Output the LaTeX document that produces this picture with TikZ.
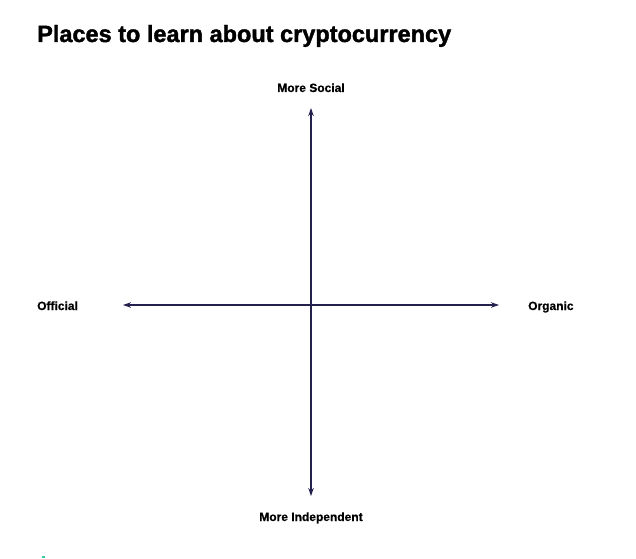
\documentclass[tikz,border=0pt]{standalone}
\usepackage{fontspec}
\setmainfont{Liberation Sans}
\newfontfamily\titlefont[FakeBold=1.6]{Liberation Sans Bold}
\newfontfamily\labelfont[FakeBold=0.6]{Liberation Sans Bold}
\usetikzlibrary{arrows.meta}
\definecolor{axis}{HTML}{24214F}
\definecolor{teal}{HTML}{3CC8A0}
\begin{document}
\begin{tikzpicture}[x=1pt,y=1pt,
  axisline/.style={draw=axis,line width=1.1pt,{Stealth[length=8pt,width=5.5pt]}-{Stealth[length=8pt,width=5.5pt]}},
  axlabel/.style={font=\labelfont\fontsize{12}{14}\selectfont,inner sep=0pt,text=black},
  titletext/.style={font=\titlefont\fontsize{23.5}{28}\selectfont,inner sep=0pt,text=black}]
\fill[white] (0,0) rectangle (636,558);
\useasboundingbox (0,0) rectangle (636,558);
\node[titletext,anchor=base west] (title) at (37,516) {Places to learn about cryptocurrency};
\coordinate (top) at (311,450);
\coordinate (bottom) at (311,62);
\coordinate (left) at (123,253);
\coordinate (right) at (499,253);
\draw[axisline] (left) -- (right);
\draw[axisline] (bottom) -- (top);
\node[axlabel,anchor=base] (social) at (311,466) {More Social};
\node[axlabel,anchor=base] (indep) at (311,37) {More Independent};
\node[axlabel,anchor=base west] (official) at (37,248) {Official};
\node[axlabel,anchor=base west] (organic) at (528,248) {Organic};
\fill[teal] (42,0) rectangle (45,2.5);
\end{tikzpicture}
\end{document}
